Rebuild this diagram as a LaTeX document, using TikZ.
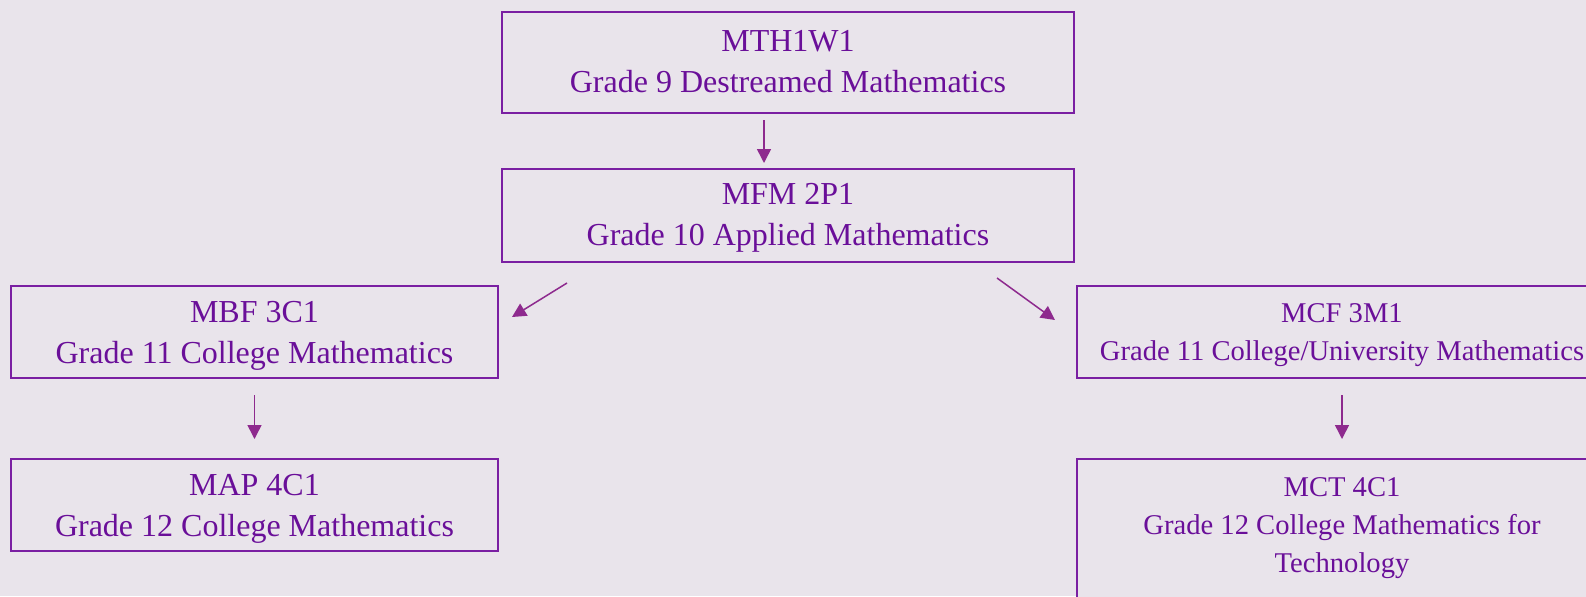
\documentclass[tikz,border=0pt]{standalone}
\usepackage{fontspec}
\setmainfont{Liberation Serif}
\usetikzlibrary{arrows.meta,positioning}
\definecolor{lilac}{HTML}{E9E4EB}
\definecolor{plum}{HTML}{7A1FA2}
\definecolor{grape}{HTML}{6A0F99}
\definecolor{orchid}{HTML}{8E2A8E}
\tikzset{course/.style={draw=plum,line width=1pt,fill=lilac,align=center,text=grape,font=\fontsize{16}{20.5}\selectfont,inner sep=2pt,minimum width=243.5pt,minimum height=46pt,text depth=-2pt}, wide/.style={course,minimum width=286pt,minimum height=46.5pt,text depth=1.5pt}, small/.style={course,font=\fontsize{14.3}{19}\selectfont,minimum width=265pt,text depth=-1pt}, link/.style={-{Triangle[length=7pt,width=7pt]},line width=0.75pt,draw=orchid}}
\begin{document}
\begin{tikzpicture}[x=0.5pt,y=-0.5pt]
\fill[lilac] (0,0) rectangle (1586,596);
\useasboundingbox (0,0) rectangle (1586,596);
\node[wide,minimum height=50.5pt] (mth) at (788,62.5) {MTH1W1\\Grade 9 Destreamed Mathematics};
\node[wide,below=27pt of mth] (mfm) {MFM 2P1\\Grade 10 Applied Mathematics};
\node[course,below left=11pt and 1pt of mfm.south west] (mbf) {MBF 3C1\\Grade 11 College Mathematics};
\node[course,below=39.5pt of mbf] (map) {MAP 4C1\\Grade 12 College Mathematics};
\node[small,below right=11pt and 0.5pt of mfm.south east] (mcf) {MCF 3M1\\Grade 11 College/University Mathematics};
\node[small,minimum height=74pt,text depth=8pt,below=39.5pt of mcf] (mct) {MCT 4C1\\Grade 12 College Mathematics for\\Technology};
\draw[link] ([xshift=-12pt,yshift=-3pt]mth.south) -- ([xshift=-12pt,yshift=2.5pt]mfm.north);
\draw[link] ([xshift=33pt,yshift=-10pt]mfm.south west) -- ([xshift=6.5pt,yshift=-16pt]mbf.north east);
\draw[link] ([xshift=-39pt,yshift=-7.5pt]mfm.south east) -- ([xshift=-10.5pt,yshift=-17.5pt]mcf.north west);
\draw[link] ([yshift=-8pt]mbf.south) -- ([yshift=9.5pt]map.north);
\draw[link] ([yshift=-8pt]mcf.south) -- ([yshift=9.5pt]mct.north);
\end{tikzpicture}
\end{document}
